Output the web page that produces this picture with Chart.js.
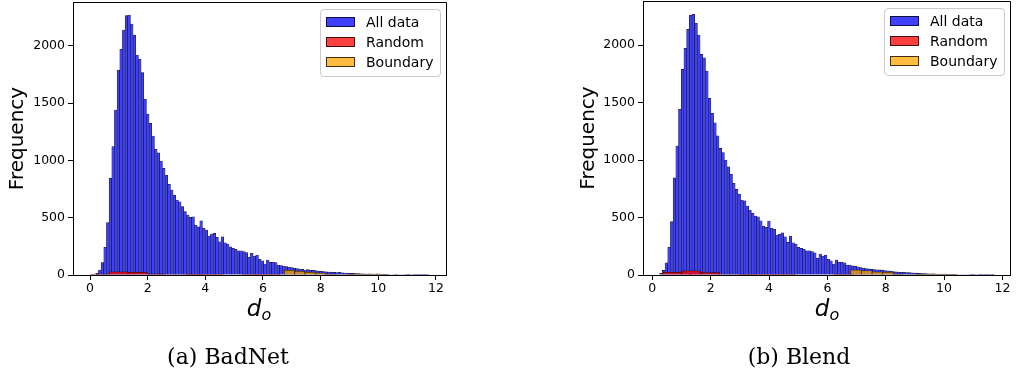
<!DOCTYPE html>
<html>
<head>
<meta charset="utf-8">
<script src="https://cdn.jsdelivr.net/npm/chart.js@4.4.1/dist/chart.umd.min.js"></script>
<style>
  html, body { margin: 0; padding: 0; background: #fff; }
  #page { position: relative; width: 1016px; height: 377px; overflow: hidden; color: #000; font-family: "DejaVu Sans", sans-serif; }
  .panel { position: absolute; top: 0; width: 508px; height: 300px; }
  .xtitle { position: absolute; top: 297px; font: italic 23px/1 "DejaVu Sans", sans-serif; transform: translateX(-50%); white-space: nowrap; }
  .xtitle sub { font-size: 16px; vertical-align: -4px; line-height: 1; }
  .caption { position: absolute; top: 346px; font: 22px/1 "DejaVu Serif", serif; transform: translateX(-50%); white-space: nowrap; }
  .legend { position: absolute; border: 1px solid #ccc; border-radius: 4px; background: rgba(255,255,255,0.8); padding: 2px 7px 4px 5px; font-size: 14px; line-height: 1; }
  .legend .row { height: 20px; display: flex; align-items: center; white-space: nowrap; }
  .legend .patch { width: 27px; height: 8px; border: 1px solid rgba(0,0,0,0.75); margin-right: 11px; }
</style>
</head>
<body>
<div id="page">
  <div class="panel" style="left:0"><canvas id="badnet" width="508" height="300"></canvas></div>
  <div class="panel" style="left:508px"><canvas id="blend" width="508" height="300"></canvas></div>
  <div class="xtitle" style="left:259px">d<sub>o</sub></div>
  <div class="xtitle" style="left:827px">d<sub>o</sub></div>
  <div class="caption" style="left:228px">(a) BadNet</div>
  <div class="caption" style="left:799px">(b) Blend</div>
  <div class="legend" id="legBadnet" style="left:320px; top:9px"></div>
  <div class="legend" id="legBlend" style="left:884px; top:8px"></div>
</div>
<script>
// series labels and colours (blue is the 0.75-alpha blue already flattened on white,
// red and orange stay translucent because they sit on top of the blue bars)
const seriesLabels = ['All data', 'Random', 'Boundary'];
const seriesColors = ['#4040ff', 'rgba(255,0,0,0.75)', 'rgba(255,165,0,0.75)'];
const edgeColor = '#111';

const xTicks = [0, 2, 4, 6, 8, 10, 12];
const yTicks = [0, 500, 1000, 1500, 2000];

// (a) BadNet -- histogram counts, bins given by start + width
const badnetAllStart = 0.2, badnetAllWidth = 0.0925;
const badnetAll = [
  15, 44, 108, 242, 457, 844, 1121, 1441, 1790, 1971, 2140, 2265, 2271, 2192, 2096, 1921, 1884, 1767, 1534, 1406, 1325, 1214,
  1098, 1068, 996, 932, 873, 792, 742, 699, 655, 640, 597, 553, 524, 504, 509, 437, 422, 474, 408, 393, 341, 358, 364, 329,
  291, 334, 282, 271, 247, 233, 224, 212, 212, 204, 195, 155, 189, 166, 175, 137, 125, 96, 131, 111, 111, 108, 87,
  82, 79, 74, 70, 66, 60, 56, 53, 50, 44, 48, 42, 40, 38, 35, 32, 30, 28, 26, 25,
  23, 22, 24, 20, 18, 17, 15, 14, 13, 12, 11, 10, 9, 10, 8, 8, 10, 9, 8, 6,
  6, 5, 5, 6, 4, 4, 5, 3, 3, 4, 3, 2, 3, 2, 2, 1
];
const badnetRandomStart = 0, badnetRandomWidth = 0.66;
const badnetRandom = [9, 29, 24, 10, 4, 2, 1, 0, 1, 1];
const badnetBoundaryStart = 6.74, badnetBoundaryWidth = 0.357;
const badnetBoundary = [41, 32, 24, 17, 6, 4, 2, 1, 1, 1];

// (b) Blend
const blendAllStart = 0.25, blendAllWidth = 0.0925;
const blendAll = [
  14, 40, 107, 241, 464, 846, 1122, 1441, 1789, 1971, 2136, 2261, 2267, 2189, 2087, 1919, 1890, 1774, 1537, 1406, 1324, 1211,
  1101, 1064, 1000, 942, 876, 797, 745, 704, 652, 646, 600, 565, 536, 513, 507, 472, 426, 415, 470, 406, 397, 348, 354, 368,
  333, 284, 339, 281, 270, 241, 232, 223, 211, 211, 203, 194, 145, 183, 165, 174, 136, 124, 96, 130, 110, 110, 107, 87, 87,
  80, 76, 72, 65, 60, 57, 53, 50, 48, 45, 46, 42, 38, 36, 34, 30, 27, 26, 24, 23,
  22, 21, 19, 17, 16, 15, 13, 12, 11, 10, 11, 9, 9, 8, 8, 9, 7, 6, 6, 5,
  5, 4, 5, 4, 3, 3, 4, 2, 3, 2, 2, 1, 2
];
const blendRandomStart = 0.36, blendRandomWidth = 0.65;
const blendRandom = [24, 36, 21, 5, 2, 1, 1, 0, 0, 1];
const blendBoundaryStart = 6.80, blendBoundaryWidth = 0.366;
const blendBoundary = [43, 37, 26, 23, 7, 4, 3, 1, 1, 1];

function toBins(start, width, counts) {
  return counts.map((c, i) => ({ x: start + (i + 0.5) * width, y: c }));
}

function histDataset(idx, start, width, counts, order) {
  return {
    label: seriesLabels[idx],
    data: toBins(start, width, counts),
    backgroundColor: seriesColors[idx],
    borderColor: edgeColor,
    borderWidth: 0.55,
    inflateAmount: 0.3,
    grouped: false,
    order: order,
    // bar width follows the bin width on the x scale
    barThickness: (ctx) => {
      const s = ctx.chart.scales.x;
      const w = s ? Math.abs(s.getPixelForValue(width) - s.getPixelForValue(0)) : 2;
      return isFinite(w) && w > 0 ? w : 2;
    }
  };
}

const framePlugin = {
  id: 'frame',
  afterDatasetsDraw(chart) {
    const { ctx, chartArea: a } = chart;
    const top = Math.round(a.top - 0.5) + 0.5;
    const right = Math.round(a.right - 0.5) + 0.5;
    ctx.save();
    ctx.strokeStyle = '#000';
    ctx.lineWidth = 1;
    ctx.beginPath();
    ctx.moveTo(a.left, top);
    ctx.lineTo(right, top);
    ctx.lineTo(right, a.bottom);
    ctx.stroke();
    ctx.restore();
  }
};

const tickFont = { family: 'DejaVu Sans', size: 12.5 };

function makeHist(id, opt) {
  new Chart(document.getElementById(id), {
    type: 'bar',
    data: { datasets: opt.datasets },
    options: {
      responsive: false,
      animation: false,
      events: [],
      layout: { padding: opt.padding },
      plugins: { legend: { display: false }, tooltip: { enabled: false } },
      scales: {
        x: {
          type: 'linear',
          offset: false,
          min: opt.xMin,
          max: opt.xMax,
          grid: { offset: false, drawOnChartArea: false, drawTicks: true, tickLength: 5, color: '#000', lineWidth: 1 },
          border: { display: true, color: '#000', width: 1 },
          ticks: { color: '#000', font: tickFont, padding: 1, maxRotation: 0, autoSkip: false, callback: (v) => String(v) },
          afterBuildTicks: (s) => { s.ticks = xTicks.map((v) => ({ value: v })); },
          afterFit: (s) => { s.height = 25; s.paddingLeft = 0; s.paddingRight = 0; }
        },
        y: {
          type: 'linear',
          min: 0,
          max: opt.yMax,
          grid: { drawOnChartArea: false, drawTicks: true, tickLength: 5, color: '#000', lineWidth: 1 },
          border: { display: true, color: '#000', width: 1 },
          ticks: { color: '#000', font: tickFont, padding: 3, callback: (v) => String(v) },
          afterBuildTicks: (s) => { s.ticks = yTicks.map((v) => ({ value: v })); },
          afterFit: (s) => { s.width = opt.yWidth; s.paddingTop = 0; s.paddingBottom = 0; },
          title: { display: true, text: 'Frequency', color: '#000', font: { family: 'DejaVu Sans', size: 20 }, padding: { top: 4, bottom: 4 } }
        }
      }
    },
    plugins: [framePlugin]
  });
}

function makeLegend(id) {
  const el = document.getElementById(id);
  seriesLabels.forEach((lab, i) => {
    const row = document.createElement('div');
    row.className = 'row';
    const p = document.createElement('span');
    p.className = 'patch';
    p.style.background = seriesColors[i];
    const t = document.createElement('span');
    t.textContent = lab;
    row.appendChild(p);
    row.appendChild(t);
    el.appendChild(row);
  });
}

makeHist('badnet', {
  datasets: [
    histDataset(0, badnetAllStart, badnetAllWidth, badnetAll, 2),
    histDataset(1, badnetRandomStart, badnetRandomWidth, badnetRandom, 1),
    histDataset(2, badnetBoundaryStart, badnetBoundaryWidth, badnetBoundary, 1)
  ],
  padding: { left: 2, right: 62, top: 2, bottom: 0 },
  yWidth: 71,
  xMin: -0.59, xMax: 12.35,
  yMax: 2384
});

makeHist('blend', {
  datasets: [
    histDataset(0, blendAllStart, blendAllWidth, blendAll, 2),
    histDataset(1, blendRandomStart, blendRandomWidth, blendRandom, 1),
    histDataset(2, blendBoundaryStart, blendBoundaryWidth, blendBoundary, 1)
  ],
  padding: { left: 64.5, right: 6, top: 1, bottom: 0 },
  yWidth: 70.5,
  xMin: -0.32, xMax: 12.26,
  yMax: 2383
});

makeLegend('legBadnet');
makeLegend('legBlend');
</script>
</body>
</html>
